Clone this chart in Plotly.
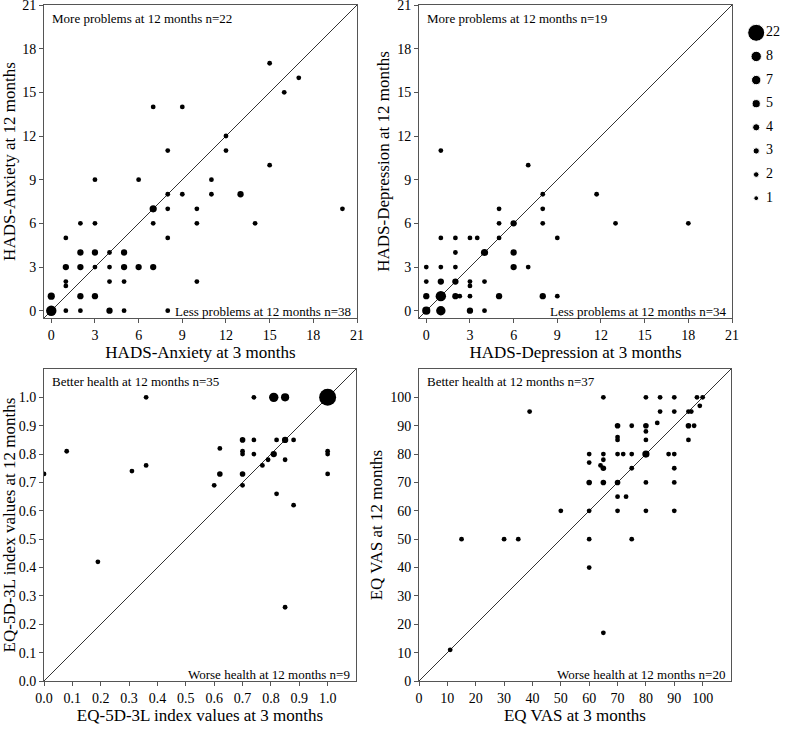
import plotly.graph_objects as go

# ---------------- data ----------------
# HADS-Anxiety: 3 months (x), 12 months (y), number of patients (n)
anx_x = [15, 17, 16, 7, 9, 12, 8, 12, 15, 3, 6, 11, 8, 9, 11, 13, 7, 8, 10, 20,
         2, 3, 7, 10, 14, 1, 8, 2, 3, 4, 5, 1, 2, 3, 4, 5, 6, 7,
         1, 1, 4, 5, 10, 0, 2, 3, 0, 1, 2, 4, 5, 8]
anx_y = [17, 16, 15, 14, 14, 12, 11, 11, 10, 9, 9, 9, 8, 8, 8, 8, 7, 7, 7, 7,
         6, 6, 6, 6, 6, 5, 5, 4, 4, 4, 4, 3, 3, 3, 3, 3, 3, 3,
         2, 1.7, 2, 2, 2, 1, 1, 1, 0, 0, 0, 0, 0, 0]
anx_n = [1, 1, 1, 1, 1, 1, 1, 1, 1, 1, 1, 1, 1, 1, 1, 3, 4, 1, 1, 1,
         1, 1, 1, 1, 1, 1, 1, 3, 3, 1, 3, 3, 3, 1, 1, 3, 3, 3,
         1, 1, 1, 1, 1, 4, 3, 3, 8, 1, 1, 3, 1, 1]

# HADS-Depression
dep_x = [1, 7, 8, 11.7, 8, 5, 13, 18, 5, 6, 8,
         1, 2, 3, 3.5, 5, 9, 2, 4, 6,
         0, 1, 2, 6, 7, 0, 1, 2, 3, 3, 4,
         0, 1, 2, 2.3, 3, 5, 8, 9, 0, 1, 3, 4]
dep_y = [11, 10, 8, 8, 7, 7, 6, 6, 6, 6, 6,
         5, 5, 5, 5, 5, 5, 4, 4, 4,
         3, 3, 3, 3, 3, 2, 2, 2, 2, 1.7, 2,
         1, 1, 1, 1, 1, 1, 1, 1, 0, 0, 0, 0]
dep_n = [1, 1, 1, 1, 1, 1, 1, 1, 1, 3, 1,
         1, 1, 1, 1, 1, 1, 1, 4, 3,
         1, 1, 1, 3, 1, 1, 3, 3, 1, 1, 1,
         3, 8, 3, 1, 1, 3, 3, 1, 5, 7, 3, 1]

# EQ-5D-3L index values
eq5_x = [0.36, 0.74, 0.81, 0.85, 1.0,
         0.70, 0.74, 0.82, 0.85, 0.88,
         0.08, 0.62, 0.70, 0.70, 0.74, 0.81, 1.0, 1.0,
         0.79, 0.85, 0.77, 0.36, 0.31, 0.0, 0.62, 0.70, 1.0,
         0.60, 0.70, 0.82, 0.88, 0.19, 0.85]
eq5_y = [1.0, 1.0, 1.0, 1.0, 1.0,
         0.85, 0.85, 0.85, 0.85, 0.85,
         0.81, 0.82, 0.81, 0.80, 0.80, 0.80, 0.81, 0.80,
         0.78, 0.78, 0.76, 0.76, 0.74, 0.73, 0.73, 0.73, 0.73,
         0.69, 0.69, 0.66, 0.62, 0.42, 0.26]
eq5_n = [1, 1, 7, 5, 22,
         2, 1, 1, 3, 1,
         1, 1, 1, 1, 1, 3, 1, 1,
         1, 1, 1, 1, 1, 1, 2, 2, 1,
         1, 1, 1, 1, 1, 1]

# EQ VAS
vas_x = [65, 80, 85, 90, 98, 100, 99,
         39, 85, 90, 95, 96, 84,
         70, 75, 80, 95, 97, 80, 70, 70, 80, 95,
         60, 65, 70, 72, 75, 80, 88, 90,
         60, 65, 64, 65, 75, 90,
         60, 65, 70, 80, 90, 70, 73,
         50, 60, 70, 80, 90,
         15, 30, 35, 60, 75, 60, 65, 11]
vas_y = [100, 100, 100, 100, 100, 100, 97,
         95, 95, 95, 95, 95, 91,
         90, 90, 90, 90, 90, 88, 86, 85, 85, 85,
         80, 80, 80, 80, 80, 80, 80, 80,
         77, 78, 76, 75, 75, 75,
         70, 70, 70, 70, 70, 65, 65,
         60, 60, 60, 60, 60,
         50, 50, 50, 50, 50, 40, 17, 11]
vas_n = [1, 1, 1, 1, 1, 1, 1,
         1, 1, 1, 1, 1, 1,
         2, 1, 2, 2, 1, 1, 1, 1, 1, 1,
         1, 1, 1, 1, 1, 4, 1, 1,
         1, 1, 1, 2, 1, 1,
         2, 2, 2, 1, 1, 1, 1,
         1, 1, 1, 1, 1,
         1, 1, 1, 1, 1, 1, 1, 1]

legend_n = [22, 8, 7, 5, 4, 3, 2, 1]

# ---------------- styling ----------------
W, H = 785, 730
FONT = "Liberation Serif, Times New Roman, serif"
SIZE_OF = {1: 4.8, 2: 5.6, 3: 6.3, 4: 7.2, 5: 8.2, 7: 9.4, 8: 10.4, 22: 17}


def sizes(ns):
    return [SIZE_OF[n] for n in ns]


def fx(px):
    return px / W


def fy(py):
    return 1 - py / H


fig = go.Figure()

panels = [
    (anx_x, anx_y, anx_n, "", (44, 357, 5, 318), [-0.5, 21], list(range(0, 22, 3)),
     "HADS-Anxiety at 3 months", "HADS-Anxiety at 12 months",
     "More problems at 12 months n=22", "Less problems at 12 months n=38", None),
    (dep_x, dep_y, dep_n, "2", (419, 732, 5, 318), [-0.5, 21], list(range(0, 22, 3)),
     "HADS-Depression at 3 months", "HADS-Depression at 12 months",
     "More problems at 12 months n=19", "Less problems at 12 months n=34", None),
    (eq5_x, eq5_y, eq5_n, "3", (44, 356, 369, 681), [0, 1.1], [i / 10 for i in range(11)],
     "EQ-5D-3L index values at 3 months", "EQ-5D-3L index values at 12 months",
     "Better health at 12 months n=35", "Worse health at 12 months n=9", ".1f"),
    (vas_x, vas_y, vas_n, "4", (419, 731, 369, 681), [0, 110], list(range(0, 101, 10)),
     "EQ VAS at 3 months", "EQ VAS at 12 months",
     "Better health at 12 months n=37", "Worse health at 12 months n=20", None),
]

annotations = []
for (xs, ys, ns, ax, (l, r, t, b), rng, ticks, xt, yt, ttop, tbot, tf) in panels:
    xa, ya = "x" + ax, "y" + ax
    # identity line
    fig.add_trace(go.Scatter(x=rng, y=rng, mode="lines", xaxis=xa, yaxis=ya,
                             line=dict(color="#333333", width=1), hoverinfo="skip",
                             showlegend=False))
    fig.add_trace(go.Scatter(x=xs, y=ys, mode="markers", xaxis=xa, yaxis=ya,
                             marker=dict(color="black", size=sizes(ns), opacity=1,
                                         line=dict(width=0)),
                             customdata=ns, hovertemplate="%{x}, %{y}: n=%{customdata}<extra></extra>",
                             showlegend=False))
    axstyle = dict(range=rng, tickvals=ticks, showline=True, mirror=True, linecolor="#555555",
                   linewidth=1, ticks="outside", ticklen=4, tickcolor="#555555",
                   showgrid=False, zeroline=False, automargin=False,
                   ticklabeloverflow="allow",
                   tickfont=dict(family=FONT, size=14, color="black"))
    if tf:
        axstyle["tickformat"] = tf
    fig.layout["xaxis" + ax] = dict(axstyle, domain=[fx(l), fx(r)], anchor=ya,
                                    title=dict(text=xt, font=dict(family=FONT, size=17, color="black"),
                                               standoff=0))
    fig.layout["yaxis" + ax] = dict(axstyle, domain=[fy(b), fy(t)], anchor=xa,
                                    title=dict(text=yt, font=dict(family=FONT, size=17, color="black"),
                                               standoff=3))
    annotations.append(dict(text=ttop, xref="paper", yref="paper", x=fx(l + 6), y=fy(t + 13),
                            xanchor="left", yanchor="middle", showarrow=False,
                            font=dict(family=FONT, size=13, color="black")))
    annotations.append(dict(text=tbot, xref="paper", yref="paper", x=fx(r - 4), y=fy(b - 7),
                            xanchor="right", yanchor="middle", showarrow=False,
                            font=dict(family=FONT, size=13, color="black")))

# size key
fig.add_trace(go.Scatter(x=[0.36] * len(legend_n), y=list(range(len(legend_n))), mode="markers",
                         xaxis="x5", yaxis="y5",
                         marker=dict(color="black", size=sizes(legend_n), opacity=1),
                         hoverinfo="skip", showlegend=False))
fig.add_trace(go.Scatter(x=[0.58] * len(legend_n), y=list(range(len(legend_n))), mode="text",
                         text=[str(n) for n in legend_n], textposition="middle right",
                         textfont=dict(family=FONT, size=14, color="black"),
                         xaxis="x5", yaxis="y5", hoverinfo="skip", showlegend=False,
                         cliponaxis=False))
fig.layout["xaxis5"] = dict(domain=[fx(740), fx(785)], range=[0, 1], visible=False, anchor="y5")
fig.layout["yaxis5"] = dict(domain=[fy(210), fy(21)], range=[len(legend_n) - 0.5, -0.5],
                            visible=False, anchor="x5")

fig.update_layout(width=W, height=H, margin=dict(l=0, r=0, t=0, b=0, autoexpand=False),
                  paper_bgcolor="white", plot_bgcolor="white",
                  annotations=annotations, showlegend=False,
                  font=dict(family=FONT, color="black"))

fig.write_html("out.html", config={"displayModeBar": False},
               post_script="document.body.style.margin='0';document.body.style.overflow='hidden';")
